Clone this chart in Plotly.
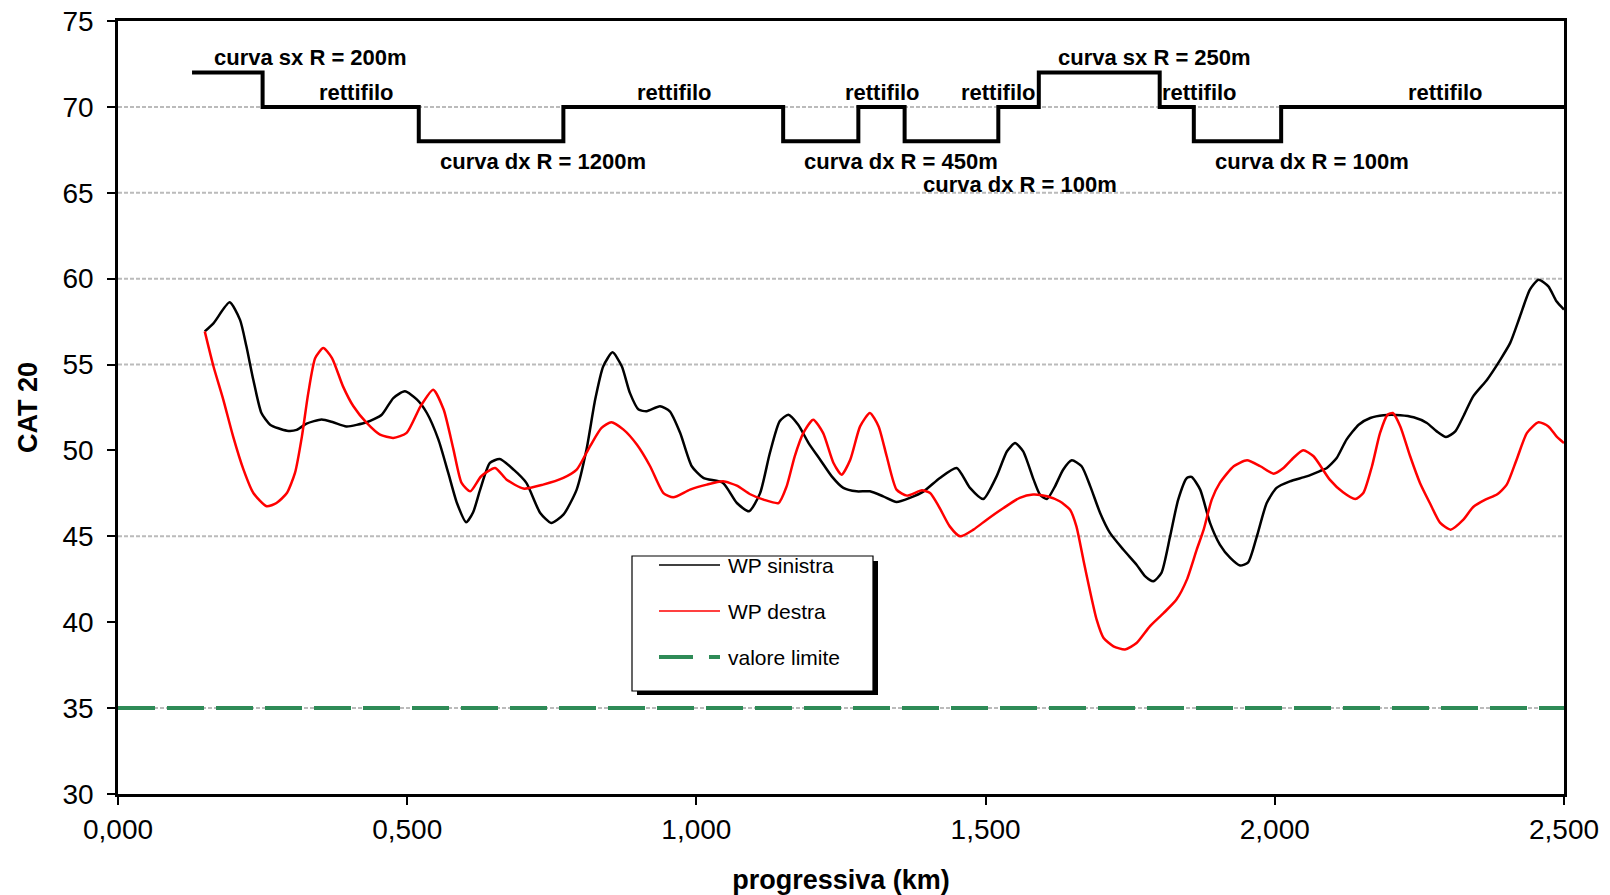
import plotly.graph_objects as go

# ---------------- data ----------------
x_sinistra = [0.150, 0.165, 0.193, 0.211, 0.222, 0.234, 0.248, 0.263, 0.292, 0.309, 0.326, 0.352, 0.372, 0.395,
              0.430, 0.456, 0.476, 0.496, 0.517, 0.534, 0.554, 0.571, 0.586, 0.602, 0.614, 0.626, 0.643, 0.660,
              0.684, 0.706, 0.730, 0.749, 0.770, 0.793, 0.810, 0.825, 0.839, 0.855, 0.871, 0.885, 0.900, 0.914,
              0.937, 0.954, 0.972, 0.992, 1.012, 1.046, 1.070, 1.091, 1.110, 1.127, 1.144, 1.159, 1.176, 1.194,
              1.214, 1.234, 1.254, 1.277, 1.300, 1.323, 1.346, 1.369, 1.393, 1.421, 1.450, 1.473, 1.496, 1.519,
              1.537, 1.551, 1.565, 1.583, 1.594, 1.606, 1.620, 1.634, 1.649, 1.666, 1.681, 1.698, 1.715, 1.738,
              1.761, 1.776, 1.790, 1.804, 1.819, 1.833, 1.848, 1.856, 1.871, 1.888, 1.905, 1.923, 1.940, 1.954,
              1.969, 1.986, 2.003, 2.026, 2.055, 2.078, 2.090, 2.107, 2.124, 2.145, 2.165, 2.188, 2.217, 2.240,
              2.263, 2.280, 2.296, 2.312, 2.326, 2.343, 2.367, 2.390, 2.407, 2.424, 2.441, 2.456, 2.473, 2.487,
              2.500]
wp_sinistra = [56.93, 57.40, 58.62, 57.60, 56.06, 54.10, 52.18, 51.50, 51.15, 51.20, 51.56, 51.80, 51.64, 51.40,
               51.64, 52.08, 53.05, 53.44, 52.96, 52.18, 50.63, 48.69, 46.94, 45.82, 46.40, 47.70, 49.27, 49.50,
               48.88, 48.11, 46.36, 45.78, 46.26, 47.72, 50.05, 52.96, 54.90, 55.71, 54.90, 53.35, 52.38, 52.28,
               52.57, 52.28, 51.02, 49.08, 48.40, 48.11, 46.94, 46.46, 47.50, 49.85, 51.70, 52.08, 51.50, 50.43,
               49.46, 48.49, 47.82, 47.62, 47.62, 47.33, 47.00, 47.24, 47.62, 48.40, 48.98, 47.82, 47.17, 48.49,
               49.95, 50.43, 49.95, 48.30, 47.43, 47.17, 47.91, 48.88, 49.43, 49.08, 47.91, 46.36, 45.20, 44.23,
               43.35, 42.67, 42.38, 42.87, 45.00, 47.14, 48.40, 48.46, 47.72, 45.78, 44.52, 43.74, 43.30, 43.49,
               45.00, 46.94, 47.82, 48.20, 48.49, 48.80, 48.98, 49.56, 50.63, 51.50, 51.89, 52.05, 52.05, 51.93,
               51.60, 51.11, 50.78, 51.11, 51.99, 53.15, 54.12, 55.29, 56.26, 57.81, 59.36, 59.94, 59.55, 58.68,
               58.20]

x_destra = [0.150, 0.165, 0.182, 0.199, 0.217, 0.234, 0.257, 0.274, 0.292, 0.306, 0.318, 0.329, 0.341, 0.355,
            0.370, 0.389, 0.407, 0.430, 0.453, 0.476, 0.499, 0.523, 0.545, 0.563, 0.580, 0.594, 0.609, 0.628,
            0.652, 0.672, 0.701, 0.735, 0.770, 0.793, 0.816, 0.836, 0.853, 0.874, 0.897, 0.920, 0.943, 0.960,
            0.989, 1.018, 1.046, 1.070, 1.093, 1.116, 1.142, 1.156, 1.170, 1.185, 1.202, 1.219, 1.237, 1.251,
            1.266, 1.283, 1.300, 1.315, 1.329, 1.346, 1.364, 1.390, 1.404, 1.419, 1.438, 1.456, 1.479, 1.502,
            1.531, 1.559, 1.582, 1.606, 1.628, 1.646, 1.657, 1.669, 1.680, 1.692, 1.704, 1.721, 1.741, 1.761,
            1.784, 1.808, 1.830, 1.848, 1.865, 1.877, 1.891, 1.905, 1.929, 1.952, 1.975, 1.998, 2.015, 2.032,
            2.049, 2.067, 2.095, 2.118, 2.139, 2.153, 2.168, 2.182, 2.195, 2.204, 2.217, 2.234, 2.251, 2.268,
            2.286, 2.304, 2.326, 2.343, 2.364, 2.384, 2.401, 2.418, 2.436, 2.456, 2.473, 2.487, 2.500]
wp_destra = [56.93, 54.90, 52.96, 50.82, 48.88, 47.52, 46.75, 46.94, 47.52, 48.69, 50.82, 53.35, 55.38, 55.96,
             55.38, 53.73, 52.57, 51.60, 50.92, 50.73, 51.02, 52.57, 53.54, 52.38, 50.05, 48.11, 47.62, 48.50,
             48.98, 48.30, 47.78, 48.01, 48.40, 48.88, 50.24, 51.31, 51.64, 51.21, 50.34, 49.08, 47.52, 47.27,
             47.72, 48.01, 48.20, 47.95, 47.45, 47.14, 46.94, 47.91, 49.66, 51.02, 51.79, 51.02, 49.27, 48.59,
             49.46, 51.40, 52.18, 51.40, 49.66, 47.72, 47.37, 47.68, 47.52, 46.75, 45.58, 45.00, 45.39, 45.97,
             46.65, 47.24, 47.43, 47.33, 47.04, 46.55, 45.58, 43.64, 41.89, 40.15, 39.08, 38.60, 38.41, 38.79,
             39.76, 40.54, 41.32, 42.48, 44.23, 45.39, 47.14, 48.11, 49.08, 49.43, 49.08, 48.65, 48.98, 49.56,
             50.01, 49.66, 48.30, 47.56, 47.17, 47.52, 49.08, 51.02, 52.08, 52.18, 51.40, 49.66, 48.11, 46.94,
             45.78, 45.39, 45.97, 46.71, 47.14, 47.43, 48.01, 49.46, 51.02, 51.64, 51.40, 50.82, 50.43]

x_limite = [0.0, 2.5]
valore_limite = [35, 35]

# road alignment (schematic step diagram)
x_tracciato = [0.128, 0.250, 0.520, 0.770, 1.150, 1.280, 1.360, 1.522, 1.592, 1.801, 1.860, 2.011, 2.500]
y_tracciato = [72, 70, 68, 70, 68, 70, 68, 70, 72, 70, 68, 70, 70]

label_text = ["curva sx R = 200m", "rettifilo", "curva dx R = 1200m", "rettifilo", "rettifilo",
              "rettifilo", "curva sx R = 250m", "rettifilo", "rettifilo", "curva dx R = 450m",
              "curva dx R = 100m", "curva dx R = 100m"]
label_x = [0.333, 0.412, 0.735, 0.962, 1.322, 1.522, 1.792, 1.870, 2.295, 1.354, 1.560, 2.064]
label_y = [72.88, 70.85, 66.85, 70.85, 70.85, 70.85, 72.88, 70.85, 70.85, 66.85, 65.5, 66.85]

series_names = ["WP sinistra", "WP destra", "valore limite"]
x_ticks = [0.0, 0.5, 1.0, 1.5, 2.0, 2.5]
x_ticktext = ["0,000", "0,500", "1,000", "1,500", "2,000", "2,500"]
y_ticks = [30, 35, 40, 45, 50, 55, 60, 65, 70, 75]
grid_values = [35, 45, 55, 60, 65, 70]

# ---------------- figure ----------------
FONT = "Liberation Sans, Arial, sans-serif"
W, H = 1610, 895
ML, MR, MT, MB = 118, 46, 21, 101

GREEN = "#2E8B57"

fig = go.Figure()

fig.add_trace(go.Scatter(x=x_tracciato, y=y_tracciato, mode="lines", line=dict(color="black", width=4, shape="hv"),
                         showlegend=False, hoverinfo="skip", name="tracciato"))
fig.add_trace(go.Scatter(x=x_sinistra, y=wp_sinistra, mode="lines", name=series_names[0],
                         line=dict(color="black", width=2.5, shape="spline", smoothing=0.6), showlegend=False))
fig.add_trace(go.Scatter(x=x_destra, y=wp_destra, mode="lines", name=series_names[1],
                         line=dict(color="#FF0000", width=2.5, shape="spline", smoothing=0.6), showlegend=False))
fig.add_trace(go.Scatter(x=x_limite, y=valore_limite, mode="lines", name=series_names[2],
                         line=dict(color=GREEN, width=4, dash="37px,12px"), showlegend=False))

shapes = []
for g in grid_values:
    shapes.append(dict(type="line", xref="x", yref="y", x0=0, x1=2.5, y0=g, y1=g, layer="below",
                       line=dict(color="#BBBBBB", width=2, dash="4px,2px")))


def px_x(p):
    return (p - ML) / (W - ML - MR)


def px_y(p):
    return (H - MB - p) / (H - MT - MB)


# legend (box with drop shadow, samples and labels)
shapes.append(dict(type="rect", xref="paper", yref="paper", x0=px_x(637), x1=px_x(878), y0=px_y(695), y1=px_y(561),
                   fillcolor="black", line=dict(width=0), layer="above"))
shapes.append(dict(type="rect", xref="paper", yref="paper", x0=px_x(632), x1=px_x(873), y0=px_y(691), y1=px_y(556),
                   fillcolor="white", line=dict(color="black", width=1.2), layer="above"))
legend_rows = [565, 611, 657]
legend_styles = [dict(color="black", width=1.5), dict(color="#FF0000", width=1.5),
                 dict(color=GREEN, width=4, dash="34px,16px")]
annotations = []
for name, row, st in zip(series_names, legend_rows, legend_styles):
    shapes.append(dict(type="line", xref="paper", yref="paper", x0=px_x(659), x1=px_x(720),
                       y0=px_y(row), y1=px_y(row), line=st, layer="above"))
    annotations.append(dict(text=name, x=px_x(726), y=px_y(row), xref="paper", yref="paper",
                            xanchor="left", yanchor="middle", showarrow=False,
                            font=dict(family=FONT, size=21, color="black")))

for t, x, y in zip(label_text, label_x, label_y):
    annotations.append(dict(text=t, x=x, y=y, xref="x", yref="y", showarrow=False,
                            font=dict(family=FONT, size=22, color="black", weight="bold")))

fig.update_layout(
    template="none",
    width=W, height=H, autosize=False,
    margin=dict(l=ML, r=MR, t=MT, b=MB, pad=0),
    paper_bgcolor="white", plot_bgcolor="white",
    font=dict(family=FONT, color="black"),
    shapes=shapes, annotations=annotations,
    showlegend=False,
    xaxis=dict(range=[0, 2.5], tickvals=x_ticks, ticktext=x_ticktext, showgrid=False, zeroline=False,
               automargin=False,
               showline=True, linecolor="black", linewidth=2.5, mirror=True,
               ticks="outside", ticklen=8, tickwidth=1.5, tickcolor="black",
               tickfont=dict(family=FONT, size=28, color="black"), ticklabelstandoff=1,
               title=dict(text="progressiva (km)", standoff=29,
                          font=dict(family=FONT, size=27, color="black", weight="bold"))),
    yaxis=dict(range=[30, 75], tickvals=y_ticks, showgrid=False, zeroline=False,
               automargin=False,
               showline=True, linecolor="black", linewidth=2.5, mirror=True,
               ticks="outside", ticklen=8, tickwidth=1.5, tickcolor="black",
               tickfont=dict(family=FONT, size=28, color="black"), ticklabelstandoff=8,
               title=dict(text="CAT 20", standoff=18,
                          font=dict(family=FONT, size=27, color="black", weight="bold"))),
)

fig.write_html("out.html", config={"displayModeBar": False},
               post_script="document.body.style.margin='0px';document.body.style.overflow='hidden';")
